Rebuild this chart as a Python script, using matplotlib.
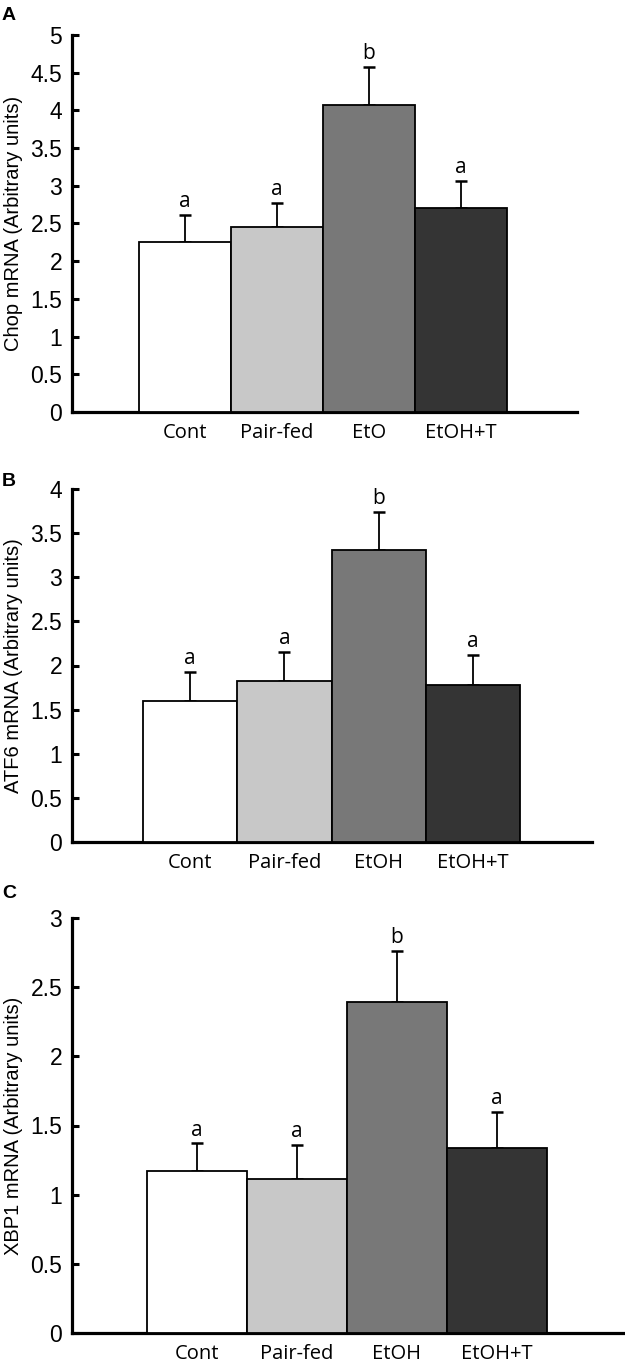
import matplotlib
matplotlib.use("Agg")
import matplotlib.pyplot as plt
import numpy as np

plt.rcParams["font.family"] = ["Liberation Sans", "DejaVu Sans"]

groups_a = ["Cont", "Pair-fed", "EtO", "EtOH+T"]
groups_bc = ["Cont", "Pair-fed", "EtOH", "EtOH+T"]
colors = ["#ffffff", "#c8c8c8", "#787878", "#343434"]

chop_vals = [2.25, 2.45, 4.07, 2.71]
chop_err = [0.36, 0.32, 0.51, 0.35]
chop_letters = ["a", "a", "b", "a"]

atf6_vals = [1.60, 1.82, 3.31, 1.78]
atf6_err = [0.33, 0.33, 0.43, 0.34]
atf6_letters = ["a", "a", "b", "a"]

xbp1_vals = [1.17, 1.11, 2.39, 1.34]
xbp1_err = [0.20, 0.25, 0.37, 0.26]
xbp1_letters = ["a", "a", "b", "a"]

W, H = 625, 1369
fig = plt.figure(figsize=(W / 100, H / 100), dpi=100)

def px_axes(l, r, t, b):
    return fig.add_axes([l / W, (H - b) / H, (r - l) / W, (b - t) / H])

panels = [
    dict(box=(72, 577, 35, 412), groups=groups_a, vals=chop_vals, err=chop_err,
         letters=chop_letters, ymax=5, ticks=np.arange(0, 5.01, 0.5),
         ylabel="Chop mRNA (Arbitrary units)", tag="A", tagy=15, xlim=(-1.23, 4.26)),
    dict(box=(72, 592, 489, 842), groups=groups_bc, vals=atf6_vals, err=atf6_err,
         letters=atf6_letters, ymax=4, ticks=np.arange(0, 4.01, 0.5),
         ylabel="ATF6 mRNA (Arbitrary units)", tag="B", tagy=481, xlim=(-1.25, 4.26)),
    dict(box=(72, 623, 918, 1333), groups=groups_bc, vals=xbp1_vals, err=xbp1_err,
         letters=xbp1_letters, ymax=3, ticks=np.arange(0, 3.01, 0.5),
         ylabel="XBP1 mRNA (Arbitrary units)", tag="C", tagy=894, xlim=(-1.25, 4.26)),
]

for p in panels:
    ax = px_axes(*p["box"])
    x = np.arange(len(p["groups"]))
    ax.bar(x, p["vals"], width=1.0, color=colors, edgecolor="black", linewidth=1.3, zorder=3)
    yerr = np.array([np.zeros(len(p["err"])), p["err"]])
    ax.errorbar(x, p["vals"], yerr=yerr, fmt="none", ecolor="black", elinewidth=1.3,
                capsize=4.5, capthick=1.8, zorder=2)
    for xi, v, e, lab in zip(x, p["vals"], p["err"], p["letters"]):
        ax.annotate(lab, (xi, v + e), xytext=(0, 2), textcoords="offset points",
                    ha="center", va="bottom", fontsize=15, family=["Open Sans", "DejaVu Sans"])
    ax.set_xlim(*p["xlim"])
    ax.set_ylim(0, p["ymax"])
    ax.set_yticks(p["ticks"])
    ax.set_yticklabels([f"{t:g}" for t in p["ticks"]], fontsize=16.5)
    ax.set_xticks(x)
    ax.set_xticklabels(p["groups"], family=["Open Sans", "DejaVu Sans"], fontsize=14.5)
    ax.tick_params(axis="x", length=0, pad=8)
    ax.tick_params(axis="y", direction="in", length=5, width=2.2, pad=7)
    for s in ["top", "right"]:
        ax.spines[s].set_visible(False)
    for s in ["left", "bottom"]:
        ax.spines[s].set_linewidth(2.3)
    ax.set_ylabel(p["ylabel"], fontsize=14.5)
    ax.yaxis.set_label_coords(-(72 - 23) / (p["box"][1] - p["box"][0]), 0.5)
    fig.text(2 / W, 1 - p["tagy"] / H, p["tag"], fontsize=14, fontweight="bold",
             ha="left", va="center")

fig.savefig("out.png", dpi=100)
